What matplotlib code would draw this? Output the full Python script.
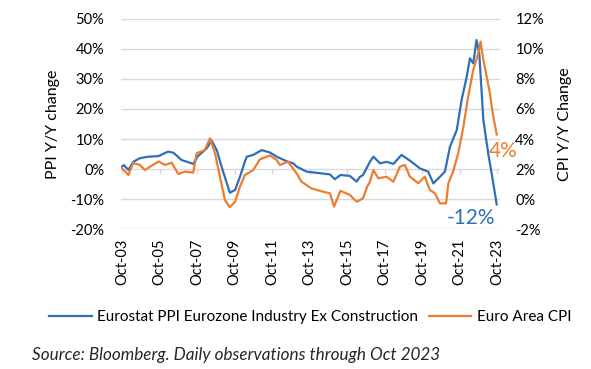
import pandas as pd
import matplotlib
matplotlib.use('Agg')
import matplotlib.pyplot as plt
import matplotlib.dates as mdates
from matplotlib.ticker import FuncFormatter
from matplotlib.lines import Line2D

plt.rcParams['font.family'] = ['Lato', 'DejaVu Sans']

# Eurostat PPI Eurozone Industry Ex Construction, Y/Y %
ppi_dates = ['2003-10-01', '2003-11-07', '2004-02-03', '2004-05-08', '2004-09-13',
             '2005-02-25', '2005-09-13', '2006-03-15', '2006-07-01', '2006-12-05',
             '2007-07-20', '2007-10-20', '2008-04-08', '2008-07-12', '2008-10-20',
             '2009-01-22', '2009-07-01', '2009-10-12', '2010-01-15', '2010-04-20',
             '2010-05-26', '2010-10-01', '2011-03-15', '2011-08-22', '2012-01-01',
             '2012-08-08', '2012-11-18', '2013-01-22', '2013-08-08', '2014-04-20',
             '2014-11-03', '2015-02-06', '2015-05-26', '2015-11-25', '2016-04-05',
             '2016-06-10', '2016-08-08', '2016-12-20', '2017-02-25', '2017-07-05',
             '2017-11-10', '2018-03-22', '2018-08-28', '2019-02-06', '2019-08-22',
             '2020-01-30', '2020-05-08', '2020-09-13', '2020-12-20', '2021-03-28',
             '2021-08-08', '2021-11-10', '2022-02-18', '2022-04-22', '2022-06-25',
             '2022-08-28', '2022-10-20', '2023-01-08', '2023-04-12', '2023-06-18',
             '2023-09-25']
ppi = [0.8, 1.3, -0.3, 2.4, 3.6,
       4.1, 4.3, 5.8, 5.4, 3.0,
       1.7, 4.3, 6.9, 9.5, 6.3,
       0.8, -7.9, -7.0, -2.6, 2.4,
       4.1, 4.7, 6.3, 5.5, 4.1,
       2.4, 1.9, 0.8, -0.9, -1.4,
       -1.8, -3.4, -2.0, -2.3, -4.2,
       -2.6, -2.0, 2.4, 4.1, 1.9,
       2.4, 1.7, 4.7, 2.8, 0.2,
       -0.9, -4.8, -2.6, -0.9, 7.4,
       13.0, 23.0, 30.8, 36.9, 35.2,
       43.0, 38.6, 16.3, 5.2, -1.4,
       -11.8]

# Euro Area CPI, Y/Y %
cpi_dates = ['2003-10-01', '2004-02-03', '2004-05-08', '2004-09-13', '2004-12-20',
             '2005-03-28', '2005-09-13', '2006-01-18', '2006-05-26', '2006-10-01',
             '2007-02-06', '2007-07-20', '2007-09-25', '2008-03-03', '2008-06-10',
             '2008-09-17', '2008-12-20', '2009-03-28', '2009-07-01', '2009-10-12',
             '2010-01-15', '2010-04-20', '2010-10-01', '2011-02-06', '2011-08-22',
             '2012-01-01', '2012-03-03', '2012-08-08', '2013-01-22', '2013-04-28',
             '2013-11-07', '2014-06-13', '2014-11-03', '2015-01-22', '2015-05-26',
             '2015-11-25', '2016-04-05', '2016-06-10', '2016-08-08', '2016-10-28',
             '2016-12-20', '2017-02-25', '2017-06-03', '2017-11-10', '2018-03-22',
             '2018-07-26', '2018-11-03', '2019-02-06', '2019-07-20', '2019-11-25',
             '2020-03-03', '2020-06-10', '2020-09-13', '2021-01-12', '2021-02-25',
             '2021-05-28', '2021-09-05', '2021-12-15', '2022-03-18', '2022-06-25',
             '2022-10-01', '2022-11-15', '2023-01-08', '2023-02-28', '2023-05-15',
             '2023-07-20', '2023-09-25']
cpi = [2.05, 1.6, 2.4, 2.27, 1.93,
       2.15, 2.5, 2.27, 2.42, 1.67,
       1.82, 1.76, 3.05, 3.27, 4.05,
       3.05, 1.49, -0.07, -0.55, -0.18,
       0.82, 1.6, 1.93, 2.64, 2.9,
       2.6, 2.27, 2.49, 1.71, 1.15,
       0.71, 0.49, 0.38, -0.51, 0.55,
       0.27, -0.18, -0.07, 0.05, 0.82,
       1.15, 1.93, 1.38, 1.49, 1.15,
       2.15, 2.27, 1.49, 1.05, 1.49,
       0.6, 0.38, -0.29, -0.29, 1.05,
       1.82, 3.05, 4.82, 6.82, 8.6,
       9.7, 10.5, 9.27, 8.4, 7.05,
       5.5, 4.3]

ppi_ticks = [-20, -10, 0, 10, 20, 30, 40, 50]
cpi_ticks = [-2, 0, 2, 4, 6, 8, 10, 12]
x_ticks = ['2003-10-01', '2005-10-01', '2007-10-01', '2009-10-01', '2011-10-01',
           '2013-10-01', '2015-10-01', '2017-10-01', '2019-10-01', '2021-10-01',
           '2023-10-01']

blue = '#2E70B8'
orange = '#ED7D31'
grid_col = '#D9D9D9'

fig = plt.figure(figsize=(5.91, 3.69), dpi=100)
ax = fig.add_axes([121 / 591, 1 - 229 / 369, 379 / 591, 210 / 369])
ax2 = ax.twinx()

ax.plot(pd.to_datetime(ppi_dates), ppi, color=blue, lw=1.6, zorder=3)
ax2.plot(pd.to_datetime(cpi_dates), cpi, color=orange, lw=1.6, zorder=3)

ax.set_ylim(-20, 50)
ax.set_yticks(ppi_ticks)
ax2.set_ylim(-2, 12)
ax2.set_yticks(cpi_ticks)
ax.yaxis.set_major_formatter(FuncFormatter(lambda v, p: f'{v:.0f}%'))
ax2.yaxis.set_major_formatter(FuncFormatter(lambda v, p: f'{v:.0f}%'))

ax.set_xlim(pd.Timestamp('2003-09-12'), pd.Timestamp('2023-11-28'))
ax.set_xticks(pd.to_datetime(x_ticks))
ax.xaxis.set_major_formatter(mdates.DateFormatter('%b-%y'))
ax.tick_params(axis='x', length=0, pad=7, labelsize=10.5, labelrotation=90)
ax.tick_params(axis='y', length=0, pad=12, labelsize=10.5)
ax2.tick_params(axis='y', length=0, pad=11, labelsize=10.5)

# small tick marks sitting on the 0% line
sec = ax.secondary_xaxis(20 / 70)
sec.set_xticks(pd.to_datetime(x_ticks))
sec.tick_params(axis='x', direction='out', length=3.5, color=grid_col, width=1,
                labelbottom=False, labeltop=False)
sec.spines['bottom'].set_visible(False)
sec.spines['top'].set_visible(False)

ax.grid(axis='y', color=grid_col, lw=1)
ax.set_axisbelow(True)
for a in (ax, ax2):
    for s in a.spines.values():
        s.set_visible(False)

ax.set_ylabel('PPI Y/Y change', fontsize=11.5)
ax.yaxis.set_label_coords(-0.16, 0.5)
ax2.set_ylabel('CPI Y/Y Change', fontsize=11.5)
ax2.yaxis.set_label_coords(1.152, 0.5)

ax.text(0.923, 0.052, f'{round(ppi[-1])}%', transform=ax.transAxes, color=blue,
        fontsize=15, ha='center', va='center')
ax.text(1.008, 0.371, f'{round(cpi[-1])}%', transform=ax.transAxes, color=orange,
        fontsize=15, ha='center', va='center')

handles = [Line2D([], [], color=blue, lw=1.6), Line2D([], [], color=orange, lw=1.6)]
fig.legend(handles, ['Eurostat PPI Eurozone Industry Ex Construction', 'Euro Area CPI'],
           loc='center', bbox_to_anchor=(310 / 591, 1 - 317 / 369), ncol=2, frameon=False,
           fontsize=11, handlelength=2.8, handletextpad=0.35, columnspacing=0.7)

fig.text(32 / 591, 1 - 355 / 369, 'Source: Bloomberg. Daily observations through Oct 2023',
         fontsize=12.3, style='italic', color='#262626', ha='left', va='center')

fig.savefig('out.png', dpi=100)
